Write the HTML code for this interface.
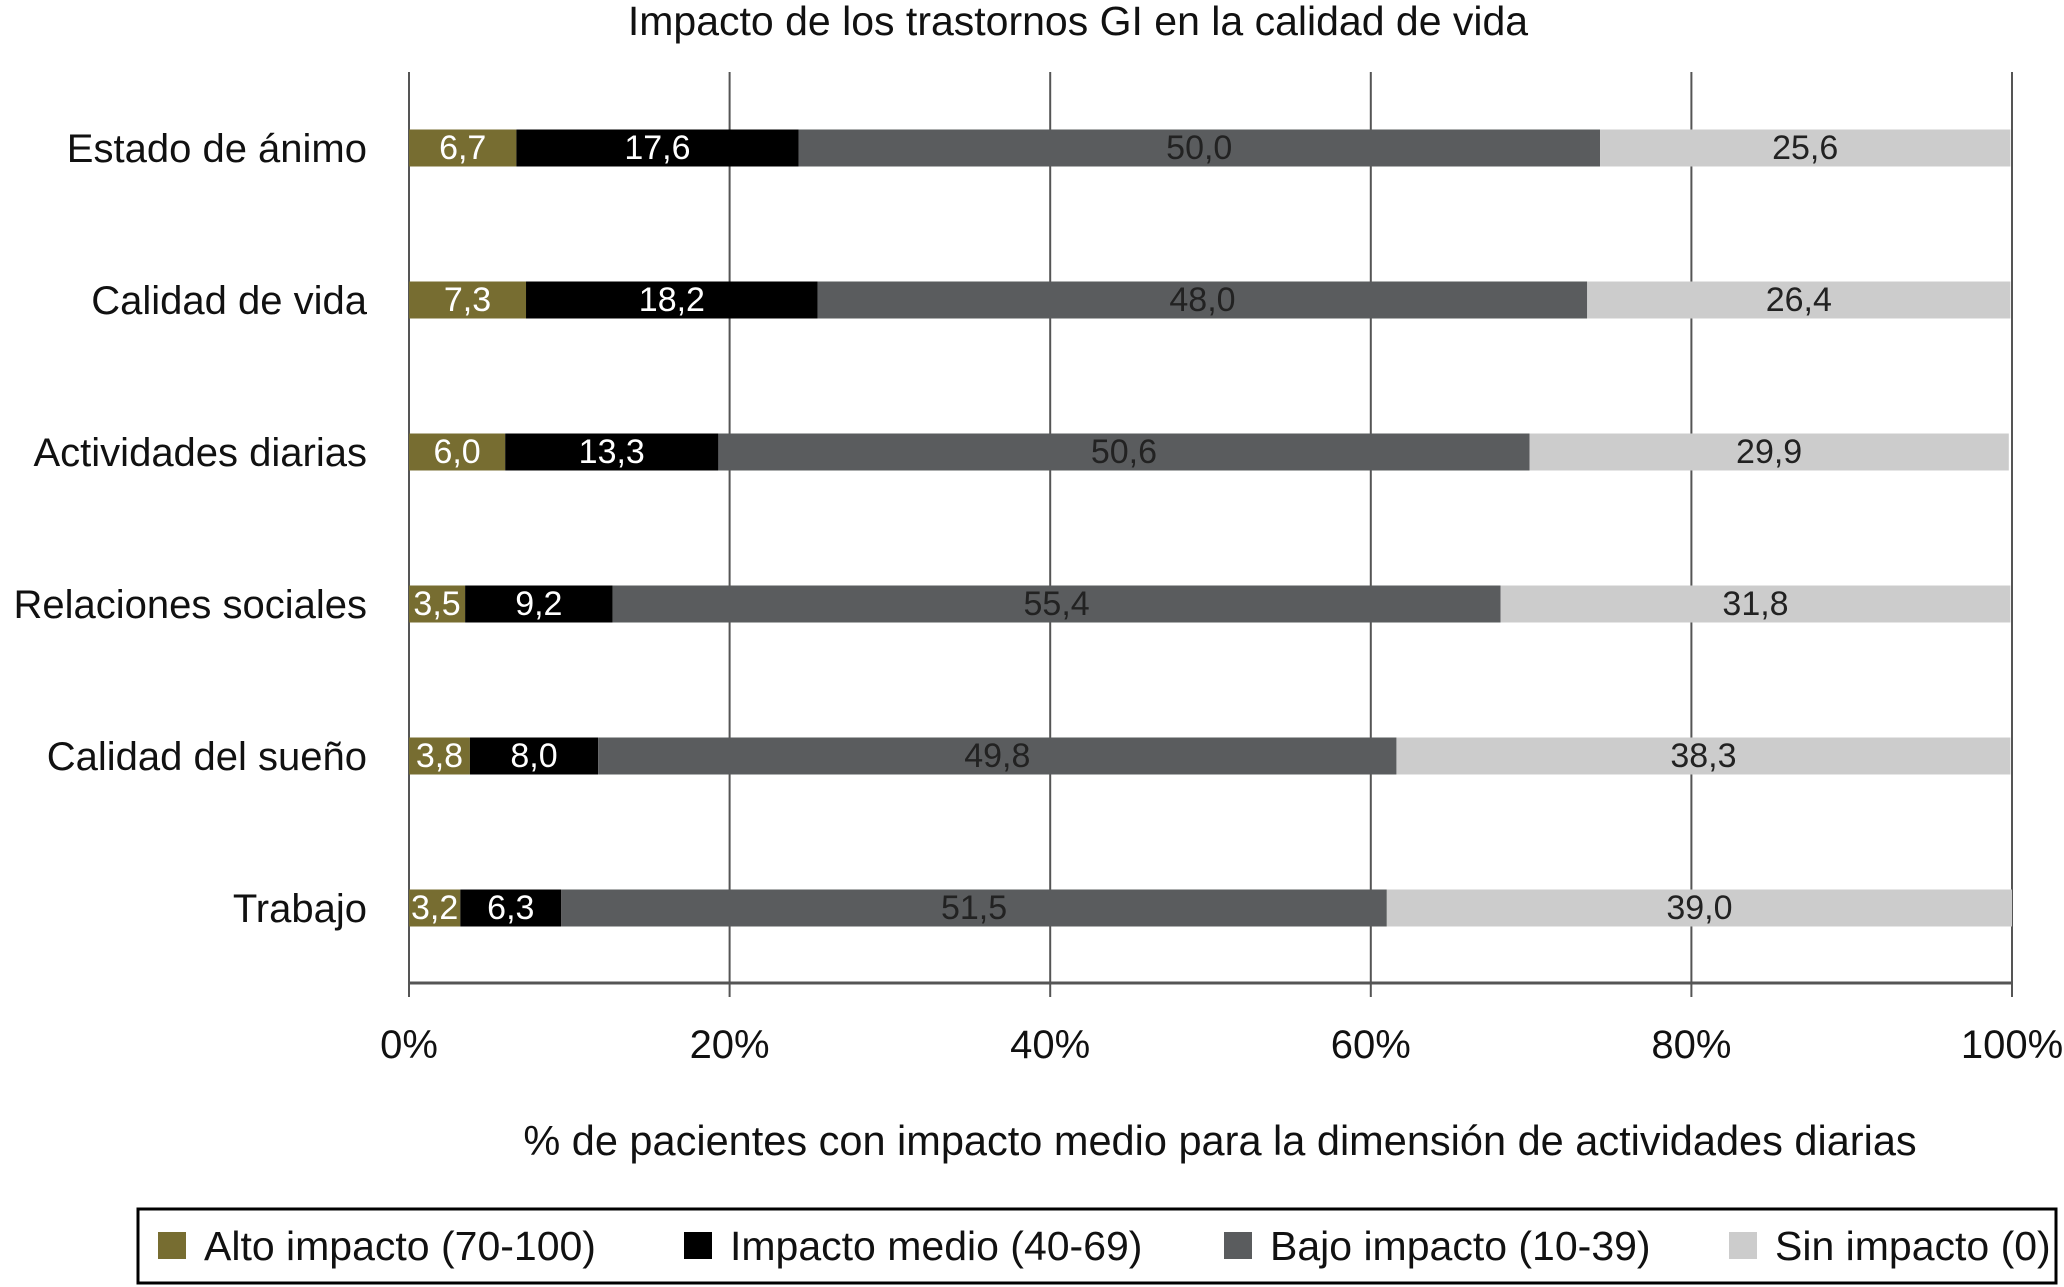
<!DOCTYPE html>
<html><head><meta charset="utf-8"><style>
body{margin:0;background:#fff;}
svg{display:block;font-family:"Liberation Sans",sans-serif;}
</style></head><body>
<svg id="chart" width="2064" height="1287" viewBox="0 0 2064 1287">
<text x="1078" y="35" font-size="41" text-anchor="middle" fill="#111">Impacto de los trastornos GI en la calidad de vida</text>
<g id="grid"></g><g id="bars"></g><g id="labels"></g>
<text x="1220" y="1155" font-size="41.5" text-anchor="middle" fill="#111">% de pacientes con impacto medio para la dimensión de actividades diarias</text>
<rect x="138" y="1209" width="1918" height="74" fill="#fff" stroke="#000" stroke-width="3"/>
<g id="legend"></g>
</svg>
<script>
const categories=["Estado de ánimo","Calidad de vida","Actividades diarias","Relaciones sociales","Calidad del sueño","Trabajo"];
const alto=[6.7,7.3,6.0,3.5,3.8,3.2];
const medio=[17.6,18.2,13.3,9.2,8.0,6.3];
const bajo=[50.0,48.0,50.6,55.4,49.8,51.5];
const sin=[25.6,26.4,29.9,31.8,38.3,39.0];
const ticks=[0,20,40,60,80,100];
const seriesNames=["Alto impacto (70-100)","Impacto medio (40-69)","Bajo impacto (10-39)","Sin impacto (0)"];
const series=[alto,medio,bajo,sin];
const colors=["#776d31","#000000","#5a5c5e","#cccccc"];
const textColors=["#fff","#fff","#222","#222"];
const NS="http://www.w3.org/2000/svg";
const x0=409,x1=2012;
const X=v=>x0+(x1-x0)*v/100;
const Y=i=>148+i*152;
const bh=37;
function mk(tag,attrs,parent){const e=document.createElementNS(NS,tag);for(const k in attrs)e.setAttribute(k,attrs[k]);parent.appendChild(e);return e;}
const grid=document.getElementById('grid'),bars=document.getElementById('bars'),labels=document.getElementById('labels'),legend=document.getElementById('legend');
ticks.forEach(t=>{
  const l=mk('line',{x1:X(t),x2:X(t),y1:72,y2:997,stroke:'#555','stroke-width':2},grid);
  
  
  const tx=mk('text',{x:X(t),y:1058,'font-size':40,'text-anchor':'middle',fill:'#111'},grid);
  tx.textContent=t+'%';
  
  
});
const ax=mk('line',{x1:x0,x2:x1,y1:983,y2:983,stroke:'#555','stroke-width':3},grid);


categories.forEach((c,i)=>{
  const cy=Y(i);
  const cl=mk('text',{x:367,y:cy+14,'font-size':40,'text-anchor':'end',fill:'#111'},labels);
  cl.textContent=c;
  
  
  let acc=0;
  series.forEach((s,j)=>{
    const v=s[i];
    const r=mk('rect',{x:X(acc),y:cy-bh/2,width:X(acc+v)-X(acc),height:bh,fill:colors[j]},bars);
    
    
    const t=mk('text',{x:(X(acc)+X(acc+v))/2,y:cy+11,'font-size':34,'text-anchor':'middle',fill:textColors[j]},labels);
    t.textContent=v.toFixed(1).replace('.',',');
    
    
    acc+=v;
  });
});
const lx=[158,684,1224,1729];
seriesNames.forEach((n,j)=>{
  const sq=mk('rect',{x:lx[j],y:1232,width:28,height:27,fill:colors[j]},legend);
  
  
  const t=mk('text',{x:lx[j]+46,y:1260,'font-size':41,fill:'#111'},legend);
  t.textContent=n;
  
  
});
</script>
</body></html>
